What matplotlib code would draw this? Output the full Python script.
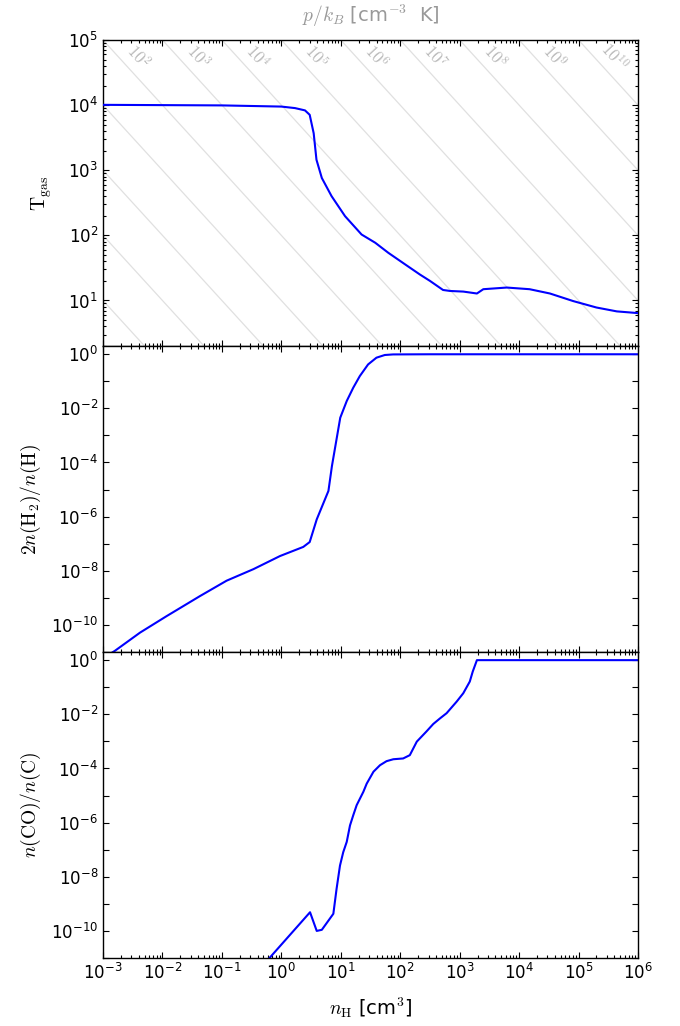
import numpy as np
import matplotlib
matplotlib.use('Agg')
import matplotlib.pyplot as plt
from matplotlib.ticker import LogLocator, FixedLocator, FuncFormatter, NullLocator, NullFormatter


plt.rcParams['mathtext.fontset'] = 'cm'
plt.rcParams['font.family'] = ['DejaVu Sans']
plt.rcParams['axes.linewidth'] = 1.0

# gas temperature along the track
n_T = [1e-3, 1e-2, 1e-1, 1.0, 1.7, 2.5, 3.0, 3.5, 3.9, 4.8, 7.0, 11.8, 22.4, 38.0, 63.0,
       120.0, 215.0, 316.0, 525.0, 690.0, 1150.0, 1950.0, 2500.0, 6200.0, 1.5e4, 3.3e4,
       8.1e4, 2.0e5, 4.4e5, 1e6]
T_gas = [1.01e4, 1.0e4, 9.9e3, 9.5e3, 9.0e3, 8.3e3, 7.1e3, 3.7e3, 1.45e3, 760.0, 400.0,
         197.0, 103.0, 77.0, 54.0, 36.0, 25.0, 20.0, 14.5, 14.0, 13.7, 12.8, 14.9, 15.8,
         14.9, 12.8, 9.8, 7.8, 6.8, 6.4]

# molecular hydrogen fraction
n_H2 = [1.3e-3, 1.58e-3, 4.2e-3, 1.17e-2, 4.3e-2, 0.12, 0.34, 0.95, 2.34, 3.0, 3.94, 6.2,
        7.1, 9.8, 12.6, 16.2, 20.9, 28.8, 39.8, 55.0, 75.9, 316.0, 1e6]
f_H2 = [8.4e-12, 1.1e-11, 5.2e-11, 2.1e-10, 1.17e-9, 4.3e-9, 1.15e-8, 3.5e-8, 7.6e-8,
        1.15e-7, 7.9e-7, 8.9e-6, 7.4e-5, 4.5e-3, 1.86e-2, 5.75e-2, 0.155, 0.417, 0.74,
        0.93, 0.977, 0.99, 0.99]

# fraction of carbon in CO
n_CO = [0.5, 3.04, 3.94, 4.8, 7.5, 8.5, 9.7, 11.0, 12.6, 14.3, 16.2, 18.5, 24.0, 27.3,
        35.5, 45.7, 58.9, 76.6, 112.0, 145.0, 190.0, 275.0, 360.0, 468.0, 603.0, 891.0,
        1150.0, 1480.0, 1660.0, 1950.0, 1e6]
f_CO = [5.6e-12, 4.9e-10, 1.0e-10, 1.1e-10, 4.3e-10, 3.6e-9, 2.6e-8, 8.1e-8, 1.95e-7,
        7.9e-7, 1.86e-6, 4.4e-6, 1.38e-5, 2.75e-5, 7.6e-5, 1.32e-4, 1.86e-4, 2.19e-4,
        2.34e-4, 3.1e-4, 9.8e-4, 2.3e-3, 4.4e-3, 7.1e-3, 1.1e-2, 2.95e-2, 6.0e-2, 0.162,
        0.38, 1.0, 1.0]

# isobars p/k_B, only some of them labelled
p_lines = [1e-3, 1e-2, 1e-1, 1e0, 1e1, 1e2, 1e3, 1e4, 1e5, 1e6, 1e7, 1e8, 1e9, 1e10, 1e11]
p_labels = [2, 3, 4, 5, 6, 7, 8, 9, 10]

n_min, n_max = 1e-3, 1e6


def log_label(v, pos):
	e = int(np.round(np.log10(v)))
	return r'$\mathdefault{10^{%d}}$' % e


def even_label(v, pos):
	e = int(np.round(np.log10(v)))
	if e % 2:
		return ''
	return r'$\mathdefault{10^{%d}}$' % e


def style_axis(ax):
	ax.set_xscale('log')
	ax.set_yscale('log')
	ax.set_xlim(n_min, n_max)
	ax.xaxis.set_major_locator(LogLocator(base=10, numticks=20))
	ax.xaxis.set_minor_locator(LogLocator(base=10, subs=np.arange(2, 10), numticks=20))
	ax.xaxis.set_major_formatter(FuncFormatter(log_label))
	ax.xaxis.set_minor_formatter(NullFormatter())
	ax.tick_params(which='both', direction='in', top=True, right=True, labelsize=12)
	ax.tick_params(which='major', length=4.5, width=0.8)
	ax.tick_params(which='minor', length=2.5, width=0.8)


fig = plt.figure(figsize=(6.8, 10.26), dpi=100)
left, width, height = 103 / 680, 535 / 680, 306 / 1026
ax_T = fig.add_axes([left, 1 - 346 / 1026, width, height])
ax_H = fig.add_axes([left, 1 - 652 / 1026, width, height], sharex=ax_T)
ax_C = fig.add_axes([left, 1 - 958 / 1026, width, height], sharex=ax_T)

for ax in (ax_T, ax_H, ax_C):
	style_axis(ax)

# temperature panel
ax_T.set_ylim(2, 1e5)
ax_T.yaxis.set_major_locator(LogLocator(base=10, numticks=20))
ax_T.yaxis.set_minor_locator(LogLocator(base=10, subs=np.arange(2, 10), numticks=20))
ax_T.yaxis.set_major_formatter(FuncFormatter(log_label))
ax_T.yaxis.set_minor_formatter(NullFormatter())

n_edge = np.array([n_min, n_max])
for p in p_lines:
	ax_T.plot(n_edge, p / n_edge, color='0.88', lw=0.9, zorder=1)

# text angle of a -1 slope line in screen space
x0, y0 = ax_T.transData.transform((1.0, 1e3))
x1, y1 = ax_T.transData.transform((10.0, 1e2))
angle = np.degrees(np.arctan2(y1 - y0, x1 - x0))
T_lab = 10 ** 4.74
for e in p_labels:
	ax_T.text(10 ** (e - 4.41), T_lab, r'$10^{%d}$' % e, color='0.72', fontsize=12,
	          rotation=angle, ha='center', va='center', rotation_mode='anchor')

ax_T.plot(n_T, T_gas, color='b', lw=1.5, zorder=3)
ax_T.set_ylabel(r'$\mathrm{T_{gas}}$', fontsize=14, labelpad=10)
fig.text(left + width / 2, 1 - 16 / 1026, r'$p/k_B$ [cm$^{-3}$  K]', color='0.6',
         fontsize=14, ha='center', va='center')

# H2 and CO panels
for ax in (ax_H, ax_C):
	ax.set_ylim(1e-11, 2)
	ax.yaxis.set_major_locator(FixedLocator(10.0 ** np.arange(-11, 1)))
	ax.yaxis.set_minor_locator(NullLocator())
	ax.yaxis.set_major_formatter(FuncFormatter(even_label))

ax_H.plot(n_H2, f_H2, color='b', lw=1.5)
ax_H.set_ylabel(r'$2n(\mathrm{H}_2)/n(\mathrm{H})$', fontsize=14, labelpad=6)

ax_C.plot(n_CO, f_CO, color='b', lw=1.5)
ax_C.set_ylabel(r'$n(\mathrm{CO})/n(\mathrm{C})$', fontsize=14, labelpad=6)
ax_C.set_xlabel(r'$n_{\mathrm{H}}$ [cm$^3$]', fontsize=14, labelpad=9)

plt.setp(ax_T.get_xticklabels(), visible=False)
plt.setp(ax_H.get_xticklabels(), visible=False)

plt.savefig('out.png', dpi=100)
plt.close()
